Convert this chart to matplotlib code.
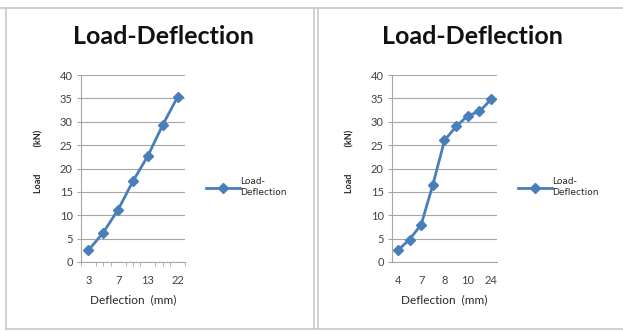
import matplotlib
matplotlib.use("Agg")
import matplotlib.pyplot as plt
from matplotlib.lines import Line2D
import numpy as np

# Data
left_categories = ["3", "5", "7", "10", "13", "19", "22"]
left_load = [2.5, 6.3, 11.2, 17.3, 22.7, 29.3, 35.3]
right_categories = ["4", "5", "7", "7.5", "8", "9", "10", "12", "24"]
right_load = [2.5, 4.8, 8.0, 16.5, 26.0, 29.0, 31.3, 32.2, 34.8]
left_shown = ["3", "7", "13", "22"]
right_shown = ["4", "7", "8", "10", "24"]
title = "Load-Deflection"
series_name = "Load-\nDeflection"

plt.rcParams['font.family'] = ['Lato', 'DejaVu Sans']

W, H = 623, 331
fig = plt.figure(figsize=(W / 100, H / 100), dpi=100)

def fx(px):
    return px / W

def fy(py):
    return 1 - py / H

# panel borders
border = "#c8c8c8"
fig.add_artist(Line2D([0, 1], [fy(8), fy(8)], color=border, lw=1.2))
fig.add_artist(Line2D([fx(6), fx(6)], [fy(8), fy(329)], color=border, lw=1.2))
fig.add_artist(Line2D([fx(6), 1], [fy(329), fy(329)], color=border, lw=1.2))
fig.add_artist(Line2D([fx(314), fx(314)], [fy(8), fy(329)], color=border, lw=1.2))
fig.add_artist(Line2D([fx(318), fx(318)], [fy(8), fy(329)], color=border, lw=1.2))

blue = "#4A7EBB"
tick_color = "#404040"

def make_panel(x0, x1, cats, vals, shown, title_x, minor):
    ax = fig.add_axes([fx(x0), fy(262), fx(x1) - fx(x0), fy(75) - fy(262)])
    n = len(cats)
    x = np.arange(n)
    line, = ax.plot(x, vals, color=blue, lw=2.0, marker="D", markersize=5.5,
                    markerfacecolor=blue, markeredgecolor=blue)
    ax.set_xlim(-0.5, n - 0.5)
    ax.set_ylim(0, 40)
    ax.set_yticks(np.arange(0, 41, 5))
    ax.grid(axis="y", color="#a6a6a6", lw=0.8)
    ax.set_axisbelow(True)
    for s in ["top", "right"]:
        ax.spines[s].set_visible(False)
    ax.spines["left"].set_color("#a6a6a6")
    ax.spines["bottom"].set_color("#a6a6a6")
    pos = [cats.index(s) for s in shown]
    ax.set_xticks(pos)
    ax.set_xticklabels(shown)
    if minor:
        ax.set_xticks(np.arange(-0.5, n, 0.5), minor=True)
        ax.tick_params(axis="x", which="minor", length=3, color="#a6a6a6")
    ax.tick_params(axis="x", which="major", length=0)
    ax.tick_params(axis="y", length=3, color="#a6a6a6")
    ax.tick_params(labelsize=8, labelcolor=tick_color)
    ax.tick_params(axis="y", pad=3)
    ax.tick_params(axis="x", pad=9)
    ax.set_xlabel("Deflection  (mm)", fontsize=8.5, color="#262626", labelpad=6)
    ax.set_ylabel("Load            (kN)", fontsize=6.5, color="#262626",
                  fontweight="bold", labelpad=12)
    ax.yaxis.set_label_coords(-0.36, 0.54)
    fig.text(fx(title_x), fy(36), title, fontsize=18, fontweight="bold",
             ha="center", va="center", color="#111111")
    ax.legend([line], [series_name], loc="center left",
              bbox_to_anchor=(1.12, 0.40), frameon=False,
              prop={"family": "DejaVu Sans", "size": 6.5},
              handlelength=3.8, handletextpad=0.0, labelcolor="#262626")
    return ax

make_panel(81, 185, left_categories, left_load, left_shown, 163, True)
make_panel(392, 497, right_categories, right_load, right_shown, 472, False)

fig.savefig("out.png", dpi=100)
